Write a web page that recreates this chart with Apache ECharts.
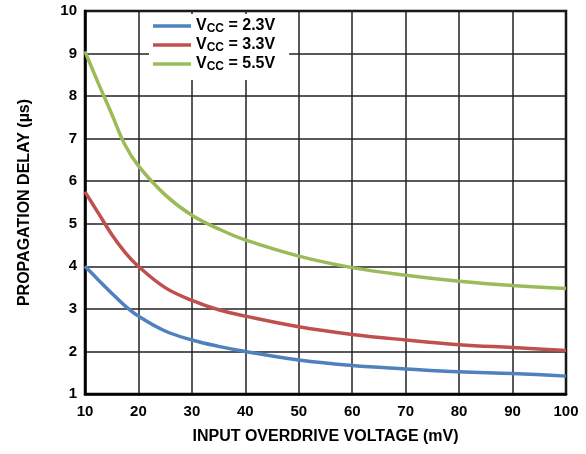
<!DOCTYPE html>
<html>
<head>
<meta charset="utf-8">
<script src="https://cdn.jsdelivr.net/npm/echarts@6/dist/echarts.min.js"></script>
<style>
  html, body { margin: 0; padding: 0; background: #fff; }
  #chart { width: 586px; height: 454px; }
</style>
</head>
<body>
<div id="chart"></div>
<script>
// input overdrive (mV)
const overdrive = [10, 12.5, 15, 17.5, 20, 25, 30, 35, 40, 50, 60, 70, 80, 90, 100];
// propagation delay (us) per supply
const vcc23 = [4.0, 3.68, 3.37, 3.07, 2.83, 2.48, 2.27, 2.12, 2.0, 1.8, 1.67, 1.59, 1.52, 1.48, 1.42];
const vcc33 = [5.75, 5.25, 4.75, 4.33, 4.0, 3.5, 3.2, 2.98, 2.83, 2.58, 2.4, 2.27, 2.16, 2.09, 2.02];
const vcc55 = [9.05, 8.3, 7.58, 6.85, 6.36, 5.68, 5.2, 4.88, 4.62, 4.24, 3.97, 3.79, 3.65, 3.55, 3.48];
const seriesNames = ['2.3V', '3.3V', '5.5V'];
const colors = ['#4F81BD', '#C0504D', '#9BBB59'];

const font = '"Liberation Sans", Arial, sans-serif';
const pair = (ys) => overdrive.map((x, i) => [x, ys[i]]);

const myChart = echarts.init(document.getElementById('chart'));
myChart.setOption({
  animation: false,
  textStyle: { fontFamily: font },
  grid: {
    left: 85, right: 20, top: 11, bottom: 60,
    show: true, borderColor: '#000', borderWidth: 2.5
  },
  legend: {
    orient: 'vertical',
    left: 149, top: 14,
    padding: [4, 14, 7, 4],
    backgroundColor: '#fff',
    icon: 'rect',
    itemWidth: 38, itemHeight: 3.5,
    itemGap: 2,
    data: seriesNames,
    formatter: (name) => '{v|V}{s|CC}{v| = ' + name + '}',
    textStyle: {
      rich: {
        v: { fontFamily: font, fontWeight: 'bold', fontSize: 16, lineHeight: 18, color: '#000' },
        s: { fontFamily: font, fontWeight: 'bold', fontSize: 12, lineHeight: 18, color: '#000', verticalAlign: 'bottom', padding: [5, 0, 0, 0] }
      }
    }
  },
  xAxis: {
    type: 'value',
    min: 10, max: 100, interval: 10,
    name: 'INPUT OVERDRIVE VOLTAGE (mV)',
    nameLocation: 'middle',
    nameGap: 35,
    nameTextStyle: { fontFamily: font, fontWeight: 'bold', fontSize: 16, color: '#000' },
    axisLine: { show: true, lineStyle: { color: '#000', width: 2.5 } },
    axisTick: { show: false },
    axisLabel: { fontFamily: font, fontWeight: 'bold', fontSize: 15, color: '#000', margin: 10 },
    splitLine: { show: true, lineStyle: { color: '#222', width: 1.5 } }
  },
  yAxis: {
    type: 'value',
    min: 1, max: 10, interval: 1,
    name: 'PROPAGATION DELAY (µs)',
    nameLocation: 'middle',
    nameRotate: 90,
    nameGap: 52,
    nameTextStyle: { fontFamily: font, fontWeight: 'bold', fontSize: 16, color: '#000' },
    axisLine: { show: true, lineStyle: { color: '#000', width: 2.5 } },
    axisTick: { show: false },
    axisLabel: { fontFamily: font, fontWeight: 'bold', fontSize: 15, color: '#000', margin: 8 },
    splitLine: { show: true, lineStyle: { color: '#222', width: 1.5 } }
  },
  series: [vcc23, vcc33, vcc55].map((ys, i) => ({
    name: seriesNames[i],
    type: 'line',
    smooth: 0.4,
    symbol: 'none',
    data: pair(ys),
    color: colors[i],
    lineStyle: { color: colors[i], width: 3.5 },
    z: 3
  }))
});
</script>
</body>
</html>
